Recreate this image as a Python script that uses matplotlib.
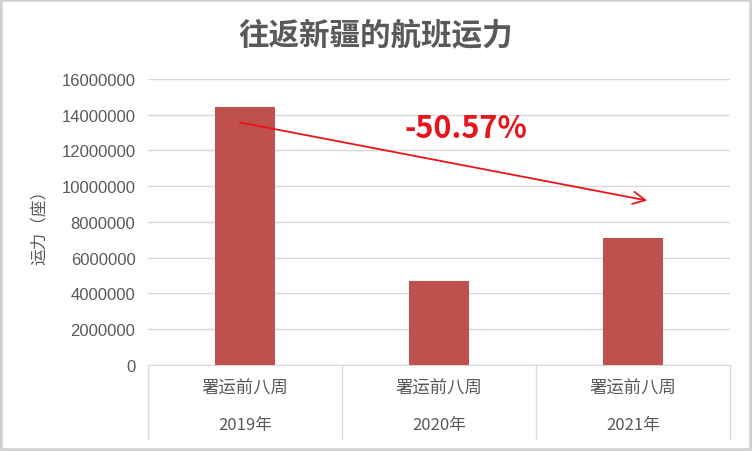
import numpy as np
import matplotlib.pyplot as plt
from matplotlib.patches import Rectangle

plt.rcParams['font.family'] = ['Noto Sans CJK SC', 'DejaVu Sans']

# ------ data ------------------------------------------------------------------
periods = ['署运前八周', '署运前八周', '署运前八周']
years = ['2019年', '2020年', '2021年']
capacity = [14420000, 4720000, 7130000]
yticks = np.arange(0, 16000001, 2000000)
change_label = '-50.57%'

bar_color = '#C0504D'
grid_color = '#D9D9D9'
text_color = '#595959'

fig = plt.figure(figsize=(7.52, 4.52), dpi=100)
ax = fig.add_axes([0.1968, 0.1903, 0.7739, 0.6327])

x = np.arange(len(capacity))
ax.bar(x, capacity, width=0.31, color=bar_color, zorder=3)

ax.set_xlim(-0.5, len(capacity) - 0.5)
ax.set_ylim(0, 16000000)
ax.set_yticks(yticks)
ax.set_yticklabels([str(v) for v in yticks], color=text_color, fontsize=12,
                   family=['Liberation Sans', 'DejaVu Sans'])
ax.set_xticks([])
ax.tick_params(axis='y', length=0, pad=9)
ax.grid(axis='y', color=grid_color, linewidth=1, zorder=0)
for s in ['top', 'right', 'left']:
    ax.spines[s].set_visible(False)
ax.spines['bottom'].set_color(grid_color)

ax.set_ylabel('运力（座）', color=text_color, fontsize=12, labelpad=10)

# ------ category box under the axis -------------------------------------------
box_bottom = -0.2587
tr = ax.get_xaxis_transform()
for edge in np.arange(len(capacity) + 1) - 0.5:
    ax.plot([edge, edge], [0, box_bottom], transform=tr, color=grid_color,
            linewidth=1, clip_on=False)
for i in range(len(capacity)):
    ax.text(i, -0.08, periods[i], transform=tr, ha='center', va='center',
            fontsize=12.5, color=text_color)
    ax.text(i, -0.207, years[i], transform=tr, ha='center', va='center',
            fontsize=12, color=text_color)

# ------ trend arrow -------------------------------------------------------------
ax.annotate('', xy=(2.088, 9170000), xytext=(-0.041, 13600000),
            arrowprops=dict(arrowstyle='->', color='#E8151B', lw=1.3,
                            mutation_scale=22), zorder=5)
ax.text(1.14, 13250000, change_label, ha='center', va='center', fontsize=22,
        fontweight='bold', color='#E8151B', zorder=5)

fig.text(0.5, 0.922, '往返新疆的航班运力', ha='center', va='center',
         fontsize=22, fontweight='bold', color=text_color)

# light frame around the picture
fig.patches.append(Rectangle((0, 0), 1, 1, transform=fig.transFigure,
                             fill=False, edgecolor='#D0D0D0', linewidth=4))

fig.savefig('out.png', dpi=100)
